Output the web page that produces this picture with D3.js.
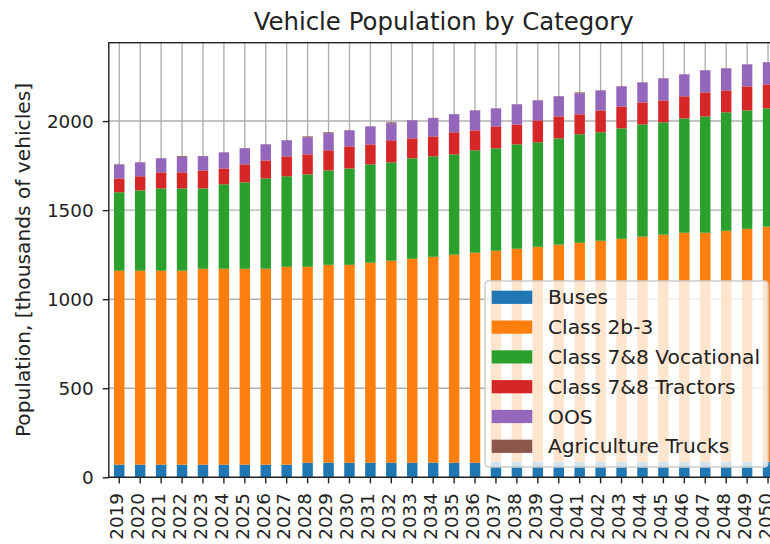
<!DOCTYPE html>
<html>
<head>
<meta charset="utf-8">
<script src="https://cdn.jsdelivr.net/npm/d3@7"></script>
<style>
  html, body { margin: 0; padding: 0; background: #fff; }
  svg { display: block; font-family: "DejaVu Sans", sans-serif; }
</style>
</head>
<body>
<svg id="chart" width="770" height="544"></svg>
<script>
// Years on the x axis
const years = [2019, 2020, 2021, 2022, 2023, 2024, 2025, 2026, 2027, 2028, 2029,
  2030, 2031, 2032, 2033, 2034, 2035, 2036, 2037, 2038, 2039, 2040, 2041, 2042,
  2043, 2044, 2045, 2046, 2047, 2048, 2049, 2050];

// Population per category, thousands of vehicles
const buses = [71, 71, 71, 71, 71, 71, 71, 71, 71, 82, 82, 82, 82, 82, 82, 82,
  82, 82, 87, 87, 87, 87, 87, 87, 87, 87, 87, 87, 87, 87, 87, 87];
const class2b3 = [1089, 1089, 1089, 1089, 1100, 1100, 1100, 1100, 1111, 1100,
  1111, 1111, 1123, 1134, 1145, 1156, 1168, 1179, 1185, 1196, 1207, 1219, 1230,
  1241, 1252, 1264, 1275, 1286, 1286, 1297, 1308, 1320];
const vocational = [440, 451, 462, 462, 451, 474, 485, 507, 508, 519, 530, 541,
  552, 552, 564, 564, 563, 575, 575, 586, 587, 597, 609, 609, 620, 630, 631, 642,
  653, 665, 665, 664];
const tractors = [78, 79, 90, 90, 101, 89, 101, 101, 112, 112, 113, 124, 112,
  124, 112, 112, 124, 112, 123, 112, 123, 123, 112, 123, 123, 124, 123, 124, 135,
  123, 135, 135];
const oos = [79, 78, 79, 86, 80, 90, 90, 90, 90, 96, 96, 90, 101, 96, 101, 103,
  101, 112, 101, 113, 112, 113, 118, 112, 113, 112, 124, 123, 124, 124, 123, 124];
const agriculture = [1, 1, 1, 5, 1, 1, 1, 1, 1, 5, 5, 1, 1, 5, 1, 1, 1, 1, 1, 1,
  1, 1, 5, 1, 1, 1, 1, 1, 1, 1, 1, 1];

const seriesNames = ["Buses", "Class 2b-3", "Class 7&8 Vocational",
  "Class 7&8 Tractors", "OOS", "Agriculture Trucks"];
const seriesValues = [buses, class2b3, vocational, tractors, oos, agriculture];
const colors = ["#1f77b4", "#ff7f0e", "#2ca02c", "#d62728", "#9467bd", "#8c564b"];

const yTicks = [0, 500, 1000, 1500, 2000];
const yMax = 2440;

const title = "Vehicle Population by Category";
const yLabel = "Population, [thousands of vehicles]";

// rows for d3.stack
const rows = years.map((yr, i) => {
  const r = { year: yr };
  seriesNames.forEach((name, k) => { r[name] = seriesValues[k][i]; });
  return r;
});

const svg = d3.select("#chart");

// plot box (right edge runs past the window, as in the original)
const plotL = 108.8, plotR = 778.5, plotT = 42.7, plotB = 477.3;
const ink = "#222";
const tickFont = "18.4px";
const textFont = "20.2px";

const x = d3.scaleBand()
  .domain(years)
  .range([plotL, plotR])
  .paddingInner(0.5)
  .paddingOuter(0.25);

const y = d3.scaleLinear()
  .domain([0, yMax])
  .range([plotB, plotT]);

const stacked = d3.stack().keys(seriesNames)(rows);

// Gridlines (below bars)
const grid = svg.append("g").attr("class", "grid");
grid.selectAll("line.vx")
  .data(years)
  .enter()
  .append("line")
  .attr("x1", d => x(d) + x.bandwidth() / 2)
  .attr("x2", d => x(d) + x.bandwidth() / 2)
  .attr("y1", plotT)
  .attr("y2", plotB)
  .attr("stroke", "#b0b0b0")
  .attr("stroke-width", 1.4);
grid.selectAll("line.hy")
  .data(yTicks)
  .enter()
  .append("line")
  .attr("x1", plotL)
  .attr("x2", plotR)
  .attr("y1", d => y(d))
  .attr("y2", d => y(d))
  .attr("stroke", "#b0b0b0")
  .attr("stroke-width", 1.4);

// Bars
svg.append("g")
  .selectAll("g")
  .data(stacked)
  .enter()
  .append("g")
  .attr("fill", (d, i) => colors[i])
  .selectAll("rect")
  .data(d => d)
  .enter()
  .append("rect")
  .attr("x", d => x(d.data.year))
  .attr("y", d => y(d[1]))
  .attr("width", x.bandwidth())
  .attr("height", d => Math.max(0, y(d[0]) - y(d[1])));

// Axes
const xAxis = svg.append("g")
  .attr("transform", `translate(0,${plotB})`)
  .call(d3.axisBottom(x).tickSize(6.1).tickSizeOuter(0).tickFormat(""));
xAxis.select(".domain").remove();
xAxis.selectAll("line").attr("stroke", ink).attr("stroke-width", 1.4);

years.forEach(yr => {
  const cx = x(yr) + x.bandwidth() / 2;
  svg.append("text")
    .attr("transform", `translate(${cx + 3.8},${493}) rotate(-90)`)
    .attr("text-anchor", "end")
    .attr("fill", ink)
    .style("font-size", tickFont)
    .text(yr);
});

const yAxis = svg.append("g")
  .attr("transform", `translate(${plotL},0)`)
  .call(d3.axisLeft(y).tickValues(yTicks).tickFormat(d3.format("d"))
    .tickSize(6.1).tickPadding(9).tickSizeOuter(0));
yAxis.select(".domain").remove();
yAxis.selectAll("line").attr("stroke", ink).attr("stroke-width", 1.4);
yAxis.selectAll("text")
  .attr("fill", ink)
  .attr("dy", "0.35em")
  .style("font-family", "DejaVu Sans")
  .style("font-size", tickFont);

// Spines
svg.append("rect")
  .attr("x", plotL)
  .attr("y", plotT)
  .attr("width", plotR - plotL)
  .attr("height", plotB - plotT)
  .attr("fill", "none")
  .attr("stroke", ink)
  .attr("stroke-width", 1.4);

// Title and axis label
svg.append("text")
  .attr("x", (plotL + plotR) / 2)
  .attr("y", 30)
  .attr("text-anchor", "middle")
  .attr("fill", ink)
  .style("font-size", "24.4px")
  .text(title);

svg.append("text")
  .attr("transform", `translate(30,${(plotT + plotB) / 2}) rotate(-90)`)
  .attr("text-anchor", "middle")
  .attr("fill", ink)
  .style("font-size", textFont)
  .text(yLabel);

// Legend
const lg = svg.append("g").attr("transform", "translate(485,281)");
lg.append("rect")
  .attr("width", 283)
  .attr("height", 186)
  .attr("rx", 3.5)
  .attr("fill", "#fff")
  .attr("fill-opacity", 0.8)
  .attr("stroke", "#cccccc")
  .attr("stroke-width", 1.4);

const rowH = 29.8;
const item = lg.selectAll("g.item")
  .data(seriesNames)
  .enter()
  .append("g")
  .attr("transform", (d, i) => `translate(0,${16.3 + i * rowH})`);
item.append("rect")
  .attr("x", 6.7)
  .attr("y", -6.6)
  .attr("width", 40.6)
  .attr("height", 13.2)
  .attr("fill", (d, i) => colors[i]);
item.append("text")
  .attr("x", 63)
  .attr("dy", "0.35em")
  .attr("fill", ink)
  .style("font-size", textFont)
  .text(d => d);
</script>
</body>
</html>
